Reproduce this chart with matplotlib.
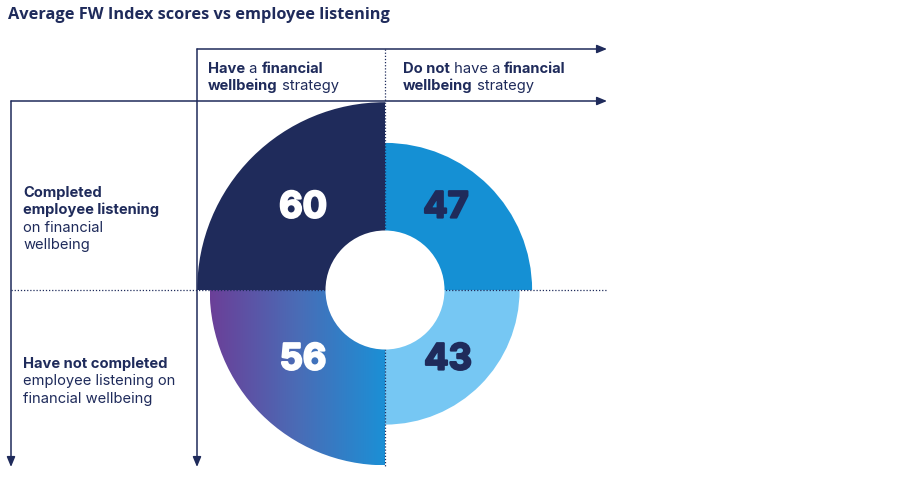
import matplotlib
matplotlib.use("Agg")
import matplotlib.pyplot as plt
import numpy as np
from matplotlib.patches import Wedge, Circle
from matplotlib.colors import LinearSegmentedColormap
import matplotlib.patheffects as pe

# data
title = "Average FW Index scores vs employee listening"
# quadrant order: top-left, top-right, bottom-left, bottom-right
scores = [60, 47, 56, 43]
score_colors = ['#1f2b5b', '#1590d4', 'gradient', '#76c7f3']
score_text_colors = ['white', '#1f2b5b', 'white', '#1f2b5b']
col_labels = [
    [[("Have", True), (" a ", False), ("financial", True)], [("wellbeing", True), (" strategy", False)]],
    [[("Do not", True), (" have a ", False), ("financial", True)], [("wellbeing", True), (" strategy", False)]],
]
row_labels = [
    [[("Completed", True)], [("employee listening", True)], [("on financial", False)], [("wellbeing", False)]],
    [[("Have not completed", True)], [("employee listening on", False)], [("financial wellbeing", False)]],
]

navy = '#1f2b5b'
W, H = 900, 478
fig = plt.figure(figsize=(9, 4.78), dpi=100)
ax = fig.add_axes([0, 0, 1, 1])
ax.set_xlim(0, W)
ax.set_ylim(H, 0)
ax.axis('off')

cx, cy = 385, 290          # centre of the rose
px_per_unit = 3.13
hole = 59.5

# axis arrows
def arrow(x0, y0, x1, y1):
    ax.annotate('', xy=(x1, y1), xytext=(x0, y0),
                arrowprops=dict(arrowstyle='-|>,head_length=0.6,head_width=0.25',
                                color=navy, lw=1.1, shrinkA=0, shrinkB=0))

arrow(197, 49, 607, 49)
arrow(197, 49, 197, 467)
arrow(11, 101, 607, 101)
arrow(11, 101, 11, 467)

# quadrant wedges (angles with inverted y)
angles = [(180, 270), (270, 360), (90, 180), (0, 90)]
for val, (a1, a2), col in zip(scores, angles, score_colors):
    r = val * px_per_unit
    if col == 'gradient':
        w = Wedge((cx, cy), r, a1, a2, facecolor='none', edgecolor='none')
        ax.add_patch(w)
        cmap = LinearSegmentedColormap.from_list('g', ['#6b3f98', '#4a6cb6', '#1b90d6'])
        grad = np.linspace(0, 1, 256).reshape(1, -1)
        im = ax.imshow(grad, cmap=cmap, extent=(cx - r, cx, cy + r, cy),
                       aspect='auto', zorder=1)
        im.set_clip_path(w)
    else:
        w = Wedge((cx, cy), r, a1, a2, facecolor=col, edgecolor='none', zorder=1)
        ax.add_patch(w)

# dotted separators
ax.plot([11, 607], [290, 290], color=navy, lw=0.9, ls=(0, (1, 1.5)), zorder=2)
ax.plot([385, 385], [49, 466], color=navy, lw=0.9, ls=(0, (1, 1.5)), zorder=2)

ax.add_patch(Circle((cx, cy), hole, facecolor='white', edgecolor='none', zorder=3))

# score numbers
num_pos = [(303, 208), (446, 208), (303, 360), (448, 360)]
for (x, y), val, tc in zip(num_pos, scores, score_text_colors):
    ax.text(x, y, str(val), fontsize=26, fontweight='bold', family='Inter',
            color=tc, ha='center', va='center', zorder=4,
            path_effects=[pe.withStroke(linewidth=1.6, foreground=tc)])

ax.text(8, 15, title, fontsize=11.8, fontweight='bold', family='Open Sans',
        color=navy, ha='left', va='center')

renderer = fig.canvas.get_renderer()

def rich_line(x, y, parts, size=10.6):
    for txt, bold in parts:
        t = ax.text(x, y, txt, fontsize=size, family='Inter',
                    fontweight='bold' if bold else 'normal',
                    color=navy, ha='left', va='baseline')
        x += t.get_window_extent(renderer).width

for x0, lines in zip([208, 403], col_labels):
    for i, parts in enumerate(lines):
        rich_line(x0, 73 + i * 17, parts)

for y0, lines in zip([197, 368], row_labels):
    for i, parts in enumerate(lines):
        rich_line(23, y0 + i * 17.3, parts)

fig.savefig('out.png', dpi=100)
